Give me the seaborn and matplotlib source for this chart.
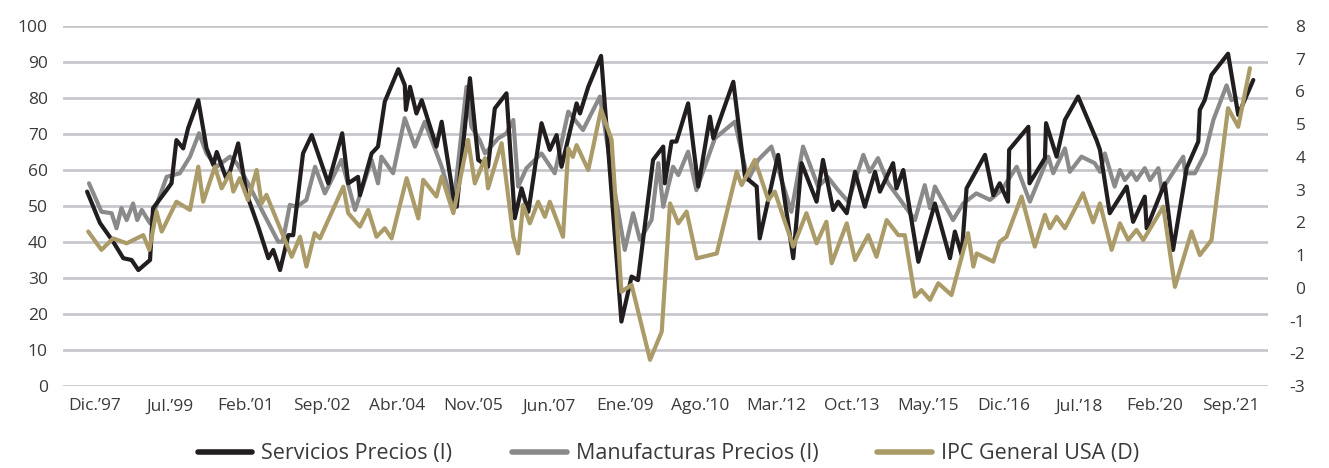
import numpy as np
import pandas as pd
import matplotlib
matplotlib.use("Agg")
import matplotlib.pyplot as plt
from matplotlib import font_manager
from matplotlib.lines import Line2D
import seaborn as sns

# ---------------- data (x = months since Dec-1997) ----------------
servicios_mes = [-1.0, 2.4, 5.9, 8.6, 10.8, 12.6, 15.7, 16.5, 20.1, 21.4,
                 22.7, 24.5, 25.8, 28.5, 30.7, 32.5, 33.4, 35.8, 36.9, 39.1,
                 41.3, 44.4, 47.1, 48.4, 50.2, 52.4, 53.7, 56.3, 58.6, 63.0,
                 66.7, 68.3, 70.9, 71.4, 74.5, 76.2, 78.0, 81.6, 83.3, 83.6,
                 84.7, 86.4, 87.8, 91.7, 93.1, 96.2, 97.1, 100.6, 102.8, 105.4,
                 107.2, 110.3, 112.5, 114.3, 116.1, 119.6, 121.8, 123.6, 124.9, 128.9,
                 129.8, 132.0, 135.4, 140.8, 143.5, 145.2, 149.2, 151.9, 152.3, 154.1,
                 155.4, 158.5, 161.2, 164.3, 165.2, 170.5, 173.6, 176.7, 177.5, 182.4,
                 186.4, 188.6, 192.6, 194.3, 197.0, 198.3, 200.6, 202.8, 205.4, 208.1,
                 209.4, 212.9, 213.8, 215.6, 219.6, 224.0, 228.0, 229.3, 231.1, 232.4,
                 237.3, 239.5, 241.2, 243.4, 243.7, 248.8, 249.1, 253.2, 253.5, 256.3,
                 258.5, 262.0, 266.9, 267.8, 270.4, 274.9, 276.6, 279.7, 280.2, 285.0,
                 287.2, 290.8, 293.9, 294.3, 295.6, 297.4, 301.8, 304.5, 308.5]
servicios = [54, 45.3, 40.1, 35.5, 35, 32.2, 35, 49.4, 54.4, 56.3,
             68.3, 66, 71.6, 79.4, 66, 61.4, 65, 58, 59.5, 67.4,
             53.5, 44.3, 35.5, 37.8, 32.2, 41.9, 41.9, 64.6, 69.7, 56.3,
             70.2, 56.3, 58.1, 53, 64.6, 66.5, 79, 88, 83.6, 76.7,
             83.1, 75.7, 79.4, 66.5, 73.4, 52.6, 49.8, 85.5, 62.8, 60.9,
             77.1, 81.3, 46.6, 54.9, 48.4, 73, 65.6, 69.7, 60.9, 78.5,
             75.7, 83.1, 91.7, 17.9, 30.4, 29.4, 62.8, 66.5, 56.3, 67.9,
             67.9, 78.5, 55.4, 74.8, 68.8, 84.5, 58.1, 55.4, 41, 64.2,
             35.5, 61.9, 51.2, 62.8, 48.9, 51.2, 48, 59.5, 49.8, 59.5,
             54, 61.9, 54.9, 60, 34.5, 50.7, 35.5, 42.9, 36.4, 54.9,
             64.2, 53, 56.3, 51.2, 65.6, 72, 56.3, 63.3, 73, 63.7,
             73.9, 80.4, 68.3, 65.6, 48, 55.4, 45.6, 52.6, 43.8, 56.3,
             37.8, 60.5, 67.9, 76.7, 79.4, 86.4, 92.3, 75.3, 85]

manufacturas_mes = [-0.5, 2.8, 5.5, 6.8, 8.1, 9.5, 11.2, 12.3, 13.5, 15.7,
                    20.1, 23.6, 26.3, 28.7, 30.7, 33.4, 36.9, 38.7, 41.7, 49.7,
                    50.9, 52.8, 54.6, 57.2, 59.5, 62.1, 66.5, 70.1, 74.5, 76.2,
                    77.1, 80.2, 83.3, 86.0, 88.6, 93.1, 96.2, 99.7, 101.0, 103.2,
                    104.6, 108.1, 110.3, 112.1, 113.4, 115.6, 119.6, 123.1, 126.7, 130.6,
                    135.1, 139.1, 141.7, 143.9, 145.7, 148.8, 150.6, 151.9, 154.5, 155.9,
                    158.5, 160.7, 165.6, 170.9, 174.4, 177.1, 180.6, 185.9, 189.0, 193.0,
                    195.6, 198.3, 201.0, 205.0, 206.7, 208.9, 211.6, 218.7, 221.3, 222.7,
                    224.0, 228.8, 231.5, 235.0, 238.6, 241.7, 245.7, 249.2, 254.1, 255.4,
                    258.5, 259.8, 262.9, 266.4, 267.8, 269.1, 271.7, 273.1, 274.4, 276.2,
                    277.5, 279.7, 281.1, 283.3, 284.2, 289.9, 290.4, 293.0, 295.7, 297.9,
                    301.4, 302.7, 303.9]
manufacturas = [56.3, 48.4, 48, 43.8, 49.4, 46.1, 50.7, 46.1, 48.9, 45.2,
                58.1, 59.1, 63.7, 70.2, 64.6, 60.9, 63.7, 61.9, 56.3, 40.1,
                40.1, 50.3, 49.8, 51.7, 60.9, 53.5, 62.8, 48.9, 62.8, 56.3,
                63.7, 59.1, 74.4, 66.5, 73.4, 60.9, 49.8, 83.1, 72, 68.3,
                64.6, 68.8, 70.2, 73.9, 55.4, 60.5, 64.6, 59.1, 76.2, 71.1,
                80.4, 53.5, 37.8, 48, 40.6, 46.1, 61.9, 49.8, 60.9, 58.6,
                65.1, 54.4, 68.8, 73.4, 57.2, 62.8, 66.5, 48.4, 66.5, 55.4,
                58, 54.4, 51.2, 64.2, 59.5, 63.3, 56.3, 46.1, 55.8, 49.4,
                55.4, 46.1, 50.7, 53.5, 51.7, 54.4, 60.9, 51.2, 63.7, 59.1,
                66, 59.5, 63.7, 61.9, 59.5, 64.6, 55.4, 60, 57.2, 59.5,
                57.2, 60.5, 57.2, 60.5, 54.4, 63.7, 59.1, 59.1, 64.6, 73.9,
                83.5, 79.4, 80]

ipc_mes = [-0.7, 2.8, 5.9, 9.5, 13.9, 15.5, 17.4, 18.8, 22.7, 26.3,
           28.5, 29.8, 32.9, 34.7, 36.9, 37.8, 39.5, 41.7, 44.0, 45.3,
           46.6, 53.3, 55.5, 57.2, 59.4, 60.8, 67.0, 68.3, 71.4, 73.6,
           75.8, 78.0, 79.8, 83.8, 86.9, 88.2, 91.7, 93.1, 96.2, 100.1,
           101.9, 104.6, 105.4, 109.0, 112.1, 113.4, 114.7, 116.5, 118.7, 120.5,
           121.8, 125.3, 126.7, 127.9, 128.9, 132.0, 135.4, 138.2, 140.8, 143.5,
           148.4, 151.5, 153.7, 155.9, 158.1, 160.8, 166.1, 171.4, 172.7, 176.2,
           179.8, 181.5, 186.4, 189.9, 192.6, 195.2, 196.6, 200.6, 202.8, 206.3,
           208.5, 211.2, 214.3, 216.0, 218.7, 220.4, 222.7, 224.9, 228.4, 232.8,
           234.2, 235.1, 239.5, 241.2, 243.0, 247.0, 250.5, 253.2, 254.5, 256.3,
           258.5, 263.3, 266.0, 267.8, 270.9, 273.1, 275.3, 277.5, 279.3, 284.6,
           287.7, 292.1, 294.3, 297.4, 301.8, 304.5, 307.6]
ipc = [1.72, 1.16, 1.51, 1.36, 1.61, 1.16, 2.33, 1.72, 2.63, 2.38,
       3.70, 2.63, 3.70, 3.04, 3.50, 2.94, 3.35, 2.68, 3.60, 2.58,
       2.84, 0.95, 1.56, 0.65, 1.67, 1.51, 3.09, 2.28, 1.87, 2.38,
       1.56, 1.82, 1.51, 3.35, 2.12, 3.30, 2.79, 3.40, 2.28, 4.52,
       3.19, 3.96, 3.04, 4.42, 1.56, 1.05, 2.53, 1.97, 2.63, 2.17,
       2.63, 1.56, 4.26, 4.0, 4.36, 3.60, 5.45, 4.52, -0.12, 0.09,
       -2.20, -1.34, 2.58, 1.97, 2.33, 0.90, 1.05, 3.55, 3.14, 3.91,
       2.68, 2.94, 1.26, 2.28, 1.36, 2.02, 0.75, 1.97, 0.85, 1.61,
       0.95, 2.07, 1.61, 1.61, -0.27, -0.07, -0.37, 0.14, -0.22, 1.67,
       0.65, 1.05, 0.80, 1.41, 1.56, 2.79, 1.26, 2.23, 1.82, 2.17,
       1.82, 2.89, 2.0, 2.58, 1.16, 1.97, 1.46, 1.77, 1.46, 2.48,
       0.03, 1.72, 1.00, 1.46, 5.49, 4.92, 6.71]

tick_labels = ["Dic.\u201997", "Jul.\u201999", "Feb.\u201901", "Sep.\u201902",
               "Abr.\u201904", "Nov.\u201905", "Jun.\u201907", "Ene.\u201909",
               "Ago.\u201910", "Mar.\u201912", "Oct.\u201913", "May.\u201915",
               "Dic.\u201916", "Jul.\u201918", "Feb.\u201920", "Sep.\u201921"]
left_ticks = list(range(0, 101, 10))
right_ticks = list(range(-3, 9))

series_names = ["Servicios Precios (I)", "Manufacturas Precios (I)", "IPC General USA (D)"]

# ---------------- style ----------------
BLACK = "#221e1f"
GREY = "#8a8a8a"
GOLD = "#ab9b69"
GRID = "#c4c4ca"
TXT = "#3a3a3a"

sns.set_theme(style="white")
avail = {f.name for f in font_manager.fontManager.ttflist}
fam = "Open Sans" if "Open Sans" in avail else "DejaVu Sans"
plt.rcParams["font.family"] = [fam, "DejaVu Sans"]

W, H = 1329, 468
fig = plt.figure(figsize=(W / 100, H / 100), dpi=100)
fig.patch.set_facecolor("white")
x0, x1, ytop, ybot = 63, 1268, 26, 386
ax = fig.add_axes([x0 / W, 1 - ybot / H, (x1 - x0) / W, (ybot - ytop) / H])
ax2 = ax.twinx()

df_s = pd.DataFrame({"mes": servicios_mes, "valor": servicios})
df_m = pd.DataFrame({"mes": manufacturas_mes, "valor": manufacturas})
df_i = pd.DataFrame({"mes": ipc_mes, "valor": ipc})

LW = 3.0
sns.lineplot(data=df_m, x="mes", y="valor", ax=ax, color=GREY, lw=LW,
             estimator=None, sort=False, legend=False, zorder=3)
sns.lineplot(data=df_s, x="mes", y="valor", ax=ax, color=BLACK, lw=LW,
             estimator=None, sort=False, legend=False, zorder=4)
sns.lineplot(data=df_i, x="mes", y="valor", ax=ax2, color=GOLD, lw=LW,
             estimator=None, sort=False, legend=False, zorder=5)

for a in (ax, ax2):
    a.set_xlim(-7.4, 312.4)
    a.set_xlabel("")
    a.set_ylabel("")
    for s in a.spines.values():
        s.set_visible(False)

ax.set_ylim(0, 100)
ax.set_yticks(left_ticks)
ax.set_yticklabels([str(v) for v in left_ticks])
ax.grid(axis="y", color=GRID, lw=1.9)
ax.grid(axis="x", visible=False)
ax.set_axisbelow(True)
ax.tick_params(axis="y", length=0, pad=11, labelsize=12.5, labelcolor=TXT)

ax2.set_ylim(-3, 8)
ax2.set_yticks(right_ticks)
ax2.set_yticklabels([str(v) for v in right_ticks])
ax2.grid(False)
ax2.tick_params(axis="y", length=0, pad=27, labelsize=12.5, labelcolor=TXT)
for t in ax2.get_yticklabels():
    t.set_horizontalalignment("right")

# x ticks: marks every 19 months, labels as separate row
ax.set_xticks(np.arange(0, 305, 19))
ax.set_xticklabels([])
ax.tick_params(axis="x", which="major", direction="in", length=4.5, width=1.6,
               color=GRID)
label_pos = [1 + 20.1 * i for i in range(len(tick_labels))]
ax.set_xticks(label_pos, minor=True)
ax.set_xticklabels(tick_labels, minor=True)
ax.tick_params(axis="x", which="minor", length=0, pad=9, labelsize=12.5,
               labelcolor=TXT)
ax2.tick_params(axis="x", length=0)

handles = [Line2D([], [], color=BLACK, lw=4),
           Line2D([], [], color=GREY, lw=4),
           Line2D([], [], color=GOLD, lw=4)]
fig.legend(handles, series_names, loc="center", bbox_to_anchor=(0.503, 0.03),
           ncol=3, frameon=False, fontsize=15.5, handlelength=2.55,
           handletextpad=0.42, columnspacing=2.75, labelcolor=TXT)

fig.savefig("out.png", dpi=100, facecolor="white")
